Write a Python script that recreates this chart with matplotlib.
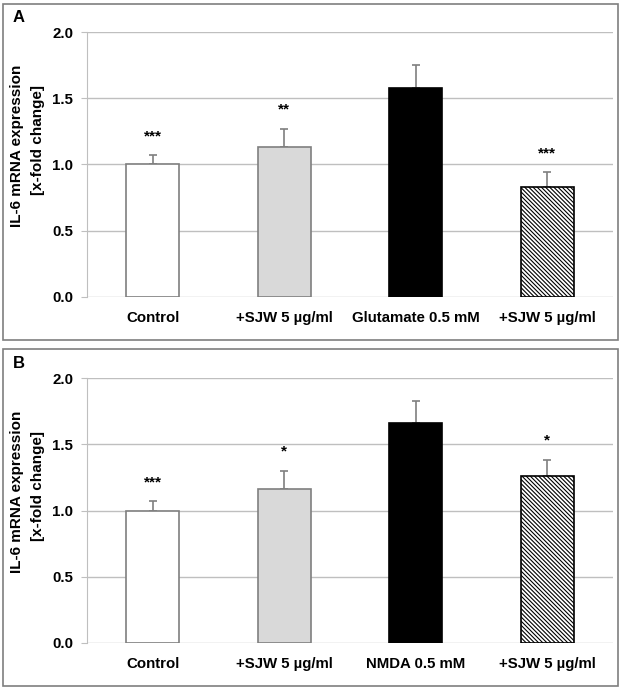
import matplotlib
matplotlib.use("Agg")
import matplotlib.pyplot as plt
from matplotlib.patches import Rectangle
import numpy as np

plt.rcParams['font.family'] = ['Liberation Sans', 'DejaVu Sans']
plt.rcParams['hatch.linewidth'] = 0.8

# data
labels_a = ['Control', '+SJW 5 µg/ml', 'Glutamate 0.5 mM', '+SJW 5 µg/ml']
means_a = [1.00, 1.13, 1.58, 0.83]
errs_a = [0.07, 0.14, 0.17, 0.11]
stars_a = ['***', '**', '', '***']

labels_b = ['Control', '+SJW 5 µg/ml', 'NMDA 0.5 mM', '+SJW 5 µg/ml']
means_b = [1.00, 1.16, 1.66, 1.26]
errs_b = [0.07, 0.14, 0.17, 0.12]
stars_b = ['***', '*', '', '*']

yticks = [0.0, 0.5, 1.0, 1.5, 2.0]

# bar styles (fill, edge, hatch)
fills = ['white', '#d9d9d9', 'black', 'white']
edges = ['#7f7f7f', '#7f7f7f', 'black', 'black']
hatches = [None, None, None, '\\' * 8]

W, H = 624, 690
fig = plt.figure(figsize=(W / 100, H / 100), dpi=100)
FS = 10.8


def px_axes(left, top, right, bottom):
    return fig.add_axes([left / W, 1 - bottom / H, (right - left) / W, (bottom - top) / H])


def panel(ax, letter, labels, means, errs, stars, box_top, box_bottom, dy):
    # outer frame
    fig.add_artist(Rectangle((3 / W, 1 - box_bottom / H), 615 / W, (box_bottom - box_top) / H,
                             transform=fig.transFigure, fill=False,
                             edgecolor='#7f7f7f', linewidth=1.2))
    fig.text(19 / W, 1 - (box_top + 14) / H, letter, fontsize=12, fontweight='bold',
             ha='center', va='center')

    x = np.arange(len(means))
    for i in range(len(means)):
        ax.bar(x[i], means[i], width=0.4, color=fills[i], edgecolor=edges[i],
               linewidth=1.2, hatch=hatches[i], zorder=2)
        ax.errorbar(x[i], means[i], yerr=[[0], [errs[i]]], fmt='none',
                    ecolor='#7f7f7f', elinewidth=1.2, capsize=3, capthick=1.2, zorder=1)
        if stars[i]:
            ax.text(x[i], means[i] + errs[i] + 0.115, stars[i], fontsize=11,
                    fontweight='bold', ha='center', va='baseline')

    ax.set_xlim(-0.5, len(means) - 0.5)
    ax.set_ylim(0, 2.0)
    ax.set_yticks(yticks)
    ax.set_yticklabels([f'{t:.1f}' for t in yticks], fontsize=FS, fontweight='bold')
    ax.set_xticks(x)
    ax.set_xticklabels(labels, fontsize=FS, fontweight='bold')
    ax.tick_params(axis='x', length=0, pad=10)
    ax.tick_params(axis='y', length=4, color='#bfbfbf', pad=6)
    ax.yaxis.grid(True, color='#bfbfbf', linewidth=1.0)
    ax.set_axisbelow(True)
    for s in ['top', 'right', 'bottom']:
        ax.spines[s].set_visible(False)
    ax.spines['left'].set_color('#bfbfbf')

    # y axis title in two lines
    fig.text(21 / W, 1 - (146 + dy) / H, 'IL-6 mRNA expression', rotation=90,
             rotation_mode='anchor', ha='center', va='baseline',
             fontsize=11, fontweight='bold')
    fig.text(42 / W, 1 - (140 + dy) / H, '[x-fold change]', rotation=90,
             rotation_mode='anchor', ha='center', va='baseline',
             fontsize=11, fontweight='bold')


ax_a = px_axes(87, 32, 613, 297)
panel(ax_a, 'A', labels_a, means_a, errs_a, stars_a, 4, 340, 0)

ax_b = px_axes(87, 378, 613, 643)
panel(ax_b, 'B', labels_b, means_b, errs_b, stars_b, 349, 686, 346)

fig.savefig('out.png', dpi=100)
